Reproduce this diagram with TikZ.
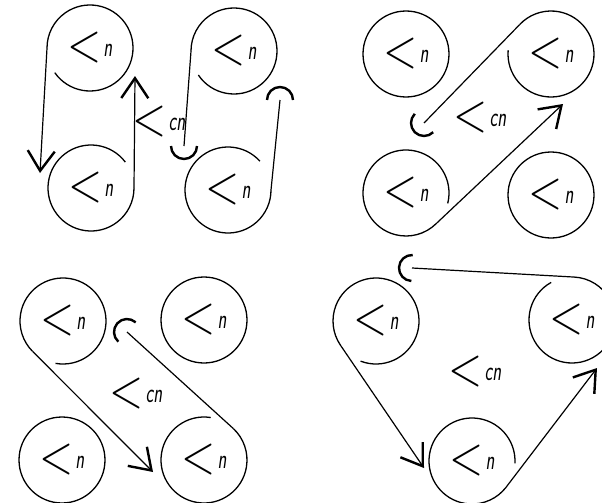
\documentclass[tikz,border=0pt]{standalone}
\usepackage{graphicx}
\usepackage{tikz}
\usetikzlibrary{arrows.meta}

\newcommand\angl[1]{\scalebox{0.8}[1]{\fontsize{56}{56}\selectfont<}\,\raisebox{5.5pt}{\scalebox{0.65}[1]{\fontsize{28}{28}\selectfont\sffamily\itshape #1}}}

\tikzset{
    pulley/.style={circle, minimum size=86pt, inner sep=0pt, outer sep=0pt},
    rim/.style={line width=1.3pt},
    belt/.style={line width=1.2pt},
    barb/.style={-{Straight Barb[length=20pt,width=27pt,line width=2.4pt]}},
    pics/cup/.style={
      code={
        \draw[line width=2.4pt] (-13pt,0) arc[start angle=180,end angle=360,radius=13pt];
      }
    }
}

\begin{document}
\begin{tikzpicture}[x=1pt,y=1pt]
    \useasboundingbox (0,0) rectangle (602,-503);
    \pgfmathsetmacro{\r}{43}	%radius

    % top left
    \node[pulley] (a1) at (90,-48) {\angl{n}};
    \node[pulley] (b1) at (91,-188) {\angl{n}};
    \node[pulley] (c1) at (234,-51) {\angl{n}};
    \node[pulley] (d1) at (228,-190) {\angl{n}};
    \node (cn1) at (159,-122) {\angl{cn}};
    \coordinate (t1) at (40,-173);
    \coordinate (t2) at (135,-76);
    \coordinate (u1) at (184,-146);
    \coordinate (u2) at (280,-100);
    \draw[rim] (a1.215) arc[start angle=215,end angle=540,radius=\r pt];
    \draw[rim] (b1.37) arc[start angle=37,end angle=360,radius=\r pt];
    \draw[rim] (c1.214) arc[start angle=214,end angle=540,radius=\r pt];
    \draw[rim] (d1.42) arc[start angle=42,end angle=360,radius=\r pt];
    \draw[belt,barb] (a1.180) -- (t1);
    \draw[belt,barb] (b1.0) -- (t2);
    \draw[belt] (c1.180) -- (u1);
    \draw[belt] (d1.0) -- (u2);
    \pic at (u1) {cup};
    \pic[rotate=180] at (u2) {cup};

    % top right
    \node[pulley,draw,rim] (e2) at (406,-54) {\angl{n}};
    \node[pulley] (f2) at (551,-54) {\angl{n}};
    \node[pulley] (g2) at (406,-193) {\angl{n}};
    \node[pulley,draw,rim] (h2) at (551,-195) {\angl{n}};
    \node (cn2) at (480,-118) {\angl{cn}};
    \coordinate (u3) at (424,-123);
    \coordinate (t3) at (563,-104);
    \draw[rim] (f2.175) arc[start angle=175,end angle=497,radius=\r pt];
    \draw[rim] (g2.-14) arc[start angle=-14,end angle=314,radius=\r pt];
    \draw[belt] (u3) -- (f2.137);
    \draw[belt,barb] (g2.-46) -- (t3);
    \pic[rotate=-45] at (u3) {cup};

    % bottom left
    \node[pulley] (i3) at (63,-321) {\angl{n}};
    \node[pulley,draw,rim] (k3) at (204,-320) {\angl{n}};
    \node[pulley,draw,rim] (l3) at (62,-460) {\angl{n}};
    \node[pulley] (j3) at (204,-460) {\angl{n}};
    \node (cn3) at (136,-394) {\angl{cn}};
    \coordinate (u4) at (127,-332);
    \coordinate (t4) at (153,-472);
    \draw[rim] (i3.260) arc[start angle=260,end angle=585,radius=\r pt];
    \draw[rim] (j3.81) arc[start angle=81,end angle=407,radius=\r pt];
    \draw[belt,barb] (i3.225) -- (t4);
    \draw[belt] (u4) -- (j3.47);
    \pic[rotate=-132] at (u4) {cup};

    % bottom right
    \node[pulley] (m4) at (376,-321) {\angl{n}};
    \node[pulley] (n4) at (472,-461) {\angl{n}};
    \node[pulley] (o4) at (572,-320) {\angl{n}};
    \node (cn4) at (475,-372) {\angl{cn}};
    \coordinate (u5) at (412,-268);
    \coordinate (t5) at (424,-468);
    \coordinate (t6) at (597,-368);
    \draw[rim] (m4.249) arc[start angle=249,end angle=574,radius=\r pt];
    \draw[rim] (n4.-3) arc[start angle=-3,end angle=322,radius=\r pt];
    \draw[rim] (o4.119) arc[start angle=119,end angle=447,radius=\r pt];
    \draw[belt,barb] (m4.214) -- (t5);
    \draw[belt,barb] (n4.-38) -- (t6);
    \draw[belt] (u5) -- (o4.87);
    \pic[rotate=-93] at (u5) {cup};
\end{tikzpicture}
\end{document}
